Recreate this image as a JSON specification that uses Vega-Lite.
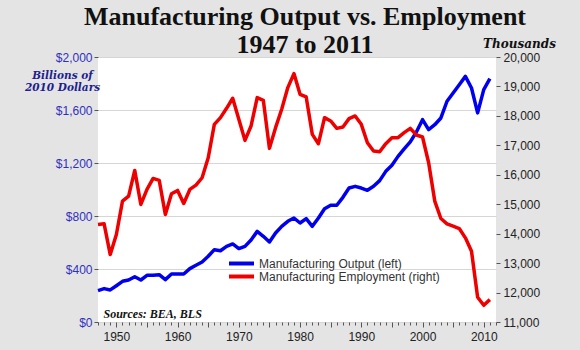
{
  "$schema": "https://vega.github.io/schema/vega-lite/v6.json",
  "autosize": {"type": "none"},
  "width": 398,
  "height": 265,
  "padding": {"left": 98, "top": 57, "right": 84, "bottom": 28},
  "background": "#e4e4e4",
  "title": {
    "text": ["Manufacturing Output vs. Employment", "1947 to 2011"],
    "font": "Liberation Serif",
    "fontSize": 26,
    "fontWeight": "bold",
    "color": "#111111",
    "anchor": "middle",
    "frame": "group",
    "dx": 8,
    "dy": 25,
    "lineHeight": 28,
    "offset": 4
  },
  "data": {
    "values": [
      {"year": 1947, "output": 237, "employment": 14311},
      {"year": 1948, "output": 252, "employment": 14334},
      {"year": 1949, "output": 242, "employment": 13291},
      {"year": 1950, "output": 274, "employment": 13971},
      {"year": 1951, "output": 307, "employment": 15105},
      {"year": 1952, "output": 317, "employment": 15275},
      {"year": 1953, "output": 342, "employment": 16148},
      {"year": 1954, "output": 317, "employment": 14992},
      {"year": 1955, "output": 352, "employment": 15502},
      {"year": 1956, "output": 352, "employment": 15876},
      {"year": 1957, "output": 357, "employment": 15808},
      {"year": 1958, "output": 320, "employment": 14651},
      {"year": 1959, "output": 362, "employment": 15355},
      {"year": 1960, "output": 362, "employment": 15468},
      {"year": 1961, "output": 362, "employment": 15026},
      {"year": 1962, "output": 403, "employment": 15502},
      {"year": 1963, "output": 428, "employment": 15650},
      {"year": 1964, "output": 453, "employment": 15899},
      {"year": 1965, "output": 496, "employment": 16579},
      {"year": 1966, "output": 546, "employment": 17713},
      {"year": 1967, "output": 538, "employment": 17940},
      {"year": 1968, "output": 571, "employment": 18258},
      {"year": 1969, "output": 589, "employment": 18598},
      {"year": 1970, "output": 554, "employment": 17883},
      {"year": 1971, "output": 571, "employment": 17169},
      {"year": 1972, "output": 619, "employment": 17657},
      {"year": 1973, "output": 684, "employment": 18620},
      {"year": 1974, "output": 647, "employment": 18530},
      {"year": 1975, "output": 604, "employment": 16897},
      {"year": 1976, "output": 672, "employment": 17600},
      {"year": 1977, "output": 722, "employment": 18224},
      {"year": 1978, "output": 760, "employment": 18961},
      {"year": 1979, "output": 785, "employment": 19437},
      {"year": 1980, "output": 747, "employment": 18734},
      {"year": 1981, "output": 780, "employment": 18643},
      {"year": 1982, "output": 722, "employment": 17373},
      {"year": 1983, "output": 785, "employment": 17056},
      {"year": 1984, "output": 855, "employment": 17940},
      {"year": 1985, "output": 881, "employment": 17827},
      {"year": 1986, "output": 881, "employment": 17577},
      {"year": 1987, "output": 941, "employment": 17623},
      {"year": 1988, "output": 1011, "employment": 17906},
      {"year": 1989, "output": 1024, "employment": 17997},
      {"year": 1990, "output": 1011, "employment": 17713},
      {"year": 1991, "output": 994, "employment": 17090},
      {"year": 1992, "output": 1024, "employment": 16806},
      {"year": 1993, "output": 1067, "employment": 16783},
      {"year": 1994, "output": 1137, "employment": 17056},
      {"year": 1995, "output": 1183, "employment": 17260},
      {"year": 1996, "output": 1250, "employment": 17260},
      {"year": 1997, "output": 1306, "employment": 17430},
      {"year": 1998, "output": 1359, "employment": 17577},
      {"year": 1999, "output": 1434, "employment": 17350},
      {"year": 2000, "output": 1527, "employment": 17282},
      {"year": 2001, "output": 1452, "employment": 16409},
      {"year": 2002, "output": 1489, "employment": 15105},
      {"year": 2003, "output": 1540, "employment": 14515},
      {"year": 2004, "output": 1666, "employment": 14334},
      {"year": 2005, "output": 1728, "employment": 14255},
      {"year": 2006, "output": 1791, "employment": 14175},
      {"year": 2007, "output": 1854, "employment": 13858},
      {"year": 2008, "output": 1766, "employment": 13404},
      {"year": 2009, "output": 1578, "employment": 11839},
      {"year": 2010, "output": 1754, "employment": 11567},
      {"year": 2011, "output": 1837, "employment": 11760}
    ]
  },
  "encoding": {
    "x": {
      "field": "year",
      "type": "quantitative",
      "scale": {"domain": [1947, 2012], "nice": false, "zero": false},
      "axis": {
        "values": [1947,1948,1949,1950,1951,1952,1953,1954,1955,1956,1957,1958,1959,1960,1961,1962,1963,1964,1965,1966,1967,1968,1969,1970,1971,1972,1973,1974,1975,1976,1977,1978,1979,1980,1981,1982,1983,1984,1985,1986,1987,1988,1989,1990,1991,1992,1993,1994,1995,1996,1997,1998,1999,2000,2001,2002,2003,2004,2005,2006,2007,2008,2009,2010,2011,2012],
        "labelExpr": "datum.value % 10 === 0 ? datum.value : ''",
        "grid": false,
        "domain": false,
        "tickSize": {"condition": {"test": "datum.value % 5 === 0", "value": 5}, "value": 3},
        "tickColor": "#555555",
        "labelFont": "Liberation Sans",
        "labelFontSize": 12,
        "labelColor": "#222222",
        "labelPadding": 4,
        "labelFlush": false,
        "labelOverlap": false,
        "title": "Sources: BEA, BLS",
        "titleFont": "Liberation Serif",
        "titleFontStyle": "italic",
        "titleFontWeight": "bold",
        "titleFontSize": 12,
        "titleColor": "#111111",
        "titleAnchor": "start",
        "titleAlign": "left",
        "titleX": 5,
        "titleY": -5,
        "titleBaseline": "alphabetic"
      }
    }
  },
  "layer": [
    {
      "mark": {"type": "line", "strokeWidth": 3.5, "strokeJoin": "round"},
      "encoding": {
        "y": {
          "field": "output",
          "type": "quantitative",
          "scale": {"domain": [0, 2000], "nice": false},
          "axis": {
            "orient": "left",
            "values": [0, 400, 800, 1200, 1600, 2000],
            "format": "$,.0f",
            "grid": true,
            "gridColor": "#d6d6d6",
            "gridWidth": 1,
            "domain": false,
            "tickSize": 4,
            "tickColor": "#555555",
            "labelPadding": 2,
            "labelFont": "Liberation Sans",
            "labelFontSize": 12,
            "labelColor": "#3030c0",
            "title": ["Billions of", "2010 Dollars"],
            "titleFont": "DejaVu Serif",
            "titleFontStyle": "italic",
            "titleFontWeight": "bold",
            "titleFontSize": 10.5,
            "titleColor": "#1e1e90",
            "titleAngle": 0,
            "titleAlign": "center",
            "titleBaseline": "alphabetic",
            "titleX": -36,
            "titleY": 21,
            "titleLineHeight": 12
          }
        },
        "color": {
          "datum": "Manufacturing Output (left)",
          "scale": {"range": ["#0000ee"]},
          "legend": {"legendX": 135, "legendY": 198}
        }
      }
    },
    {
      "mark": {"type": "line", "strokeWidth": 3.5, "strokeJoin": "round"},
      "encoding": {
        "y": {
          "field": "employment",
          "type": "quantitative",
          "scale": {"domain": [11000, 20000], "nice": false, "zero": false},
          "axis": {
            "orient": "right",
            "values": [11000, 12000, 13000, 14000, 15000, 16000, 17000, 18000, 19000, 20000],
            "format": ",.0f",
            "grid": false,
            "domain": false,
            "tickSize": 4,
            "tickColor": "#555555",
            "labelPadding": 3,
            "labelFont": "Liberation Sans",
            "labelFontSize": 12,
            "labelColor": "#222222",
            "title": "Thousands",
            "titleFont": "DejaVu Serif",
            "titleFontStyle": "italic",
            "titleFontWeight": "bold",
            "titleFontSize": 12,
            "titleColor": "#111111",
            "titleAngle": 0,
            "titleAlign": "center",
            "titleBaseline": "alphabetic",
            "titleX": 23,
            "titleY": -10
          }
        },
        "stroke": {
          "datum": "Manufacturing Employment (right)",
          "scale": {"range": ["#ee0000"]},
          "legend": {"legendX": 135, "legendY": 211}
        }
      }
    }
  ],
  "resolve": {"scale": {"y": "independent"}, "axis": {"y": "independent"}},
  "config": {
    "view": {"fill": "white", "stroke": null},
    "legend": {
      "orient": "none",
      "title": null,
      "symbolType": "M-2,0H2",
      "symbolSize": 156,
      "symbolStrokeWidth": 4,
      "labelFont": "Liberation Sans",
      "labelFontSize": 12,
      "labelColor": "#333333",
      "labelLimit": 400,
      "labelOffset": 9
    }
  }
}
